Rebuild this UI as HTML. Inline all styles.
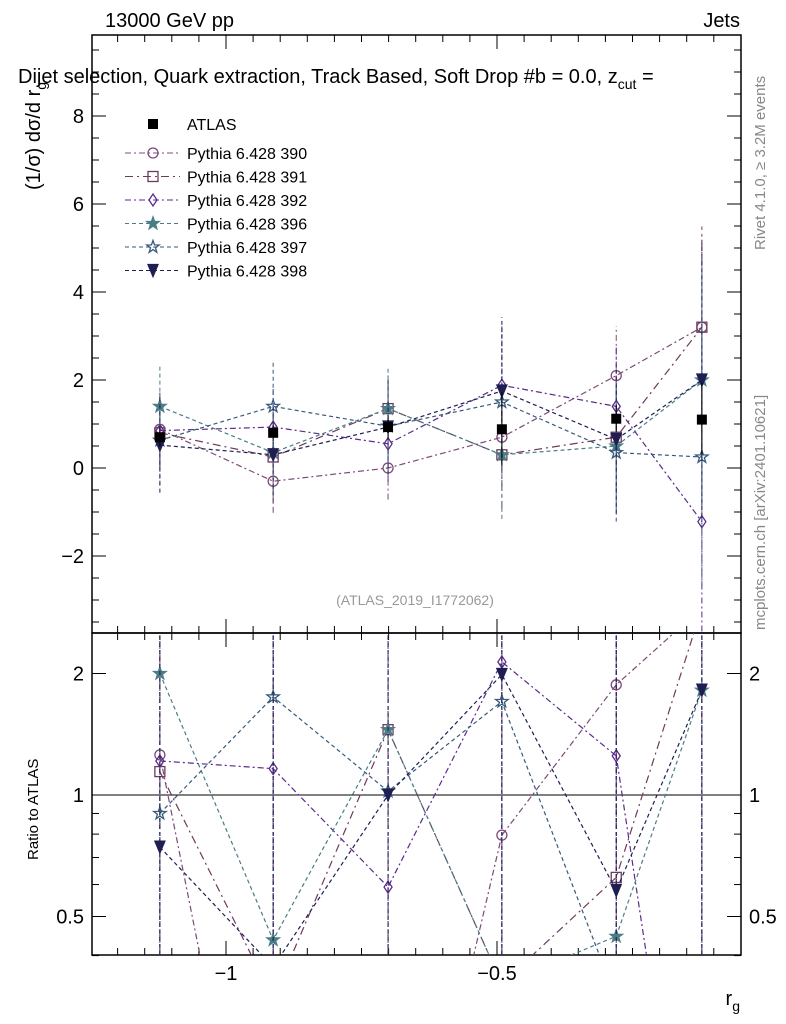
<!DOCTYPE html>
<html><head><meta charset="utf-8"><style>
html,body{margin:0;padding:0;background:#fff;width:786px;height:1024px;overflow:hidden}
svg{font-family:"Liberation Sans",sans-serif;display:block}
</style></head><body>
<svg id="c" width="786" height="1024" viewBox="0 0 786 1024" xmlns="http://www.w3.org/2000/svg">
<text x="105" y="27" font-size="20">13000 GeV pp</text>
<text x="740" y="27" font-size="20" text-anchor="end">Jets</text>
<text x="18" y="83" font-size="20">Dijet selection, Quark extraction, Track Based, Soft Drop #b = 0.0, z<tspan font-size="14" dy="6">cut</tspan><tspan dy="-6"> =</tspan></text>
<text transform="translate(765,250) rotate(-90)" font-size="15" fill="#888">Rivet 4.1.0, ≥ 3.2M events</text>
<text transform="translate(765,630) rotate(-90)" font-size="15" fill="#888">mcplots.cern.ch [arXiv:2401.10621]</text>
<text transform="translate(40,190) rotate(-90)" font-size="20">(1/σ) dσ/d r<tspan font-size="14" dy="6">g</tspan></text>
<text transform="translate(38,860) rotate(-90)" font-size="15">Ratio to ATLAS</text>
<text x="740" y="1005" font-size="20" text-anchor="end">r<tspan font-size="14" dy="6">g</tspan></text>
<text x="415" y="605" font-size="14" fill="#999" text-anchor="middle">(ATLAS_2019_I1772062)</text>
<g id="g"></g>
</svg>
<script>
const xs=[-1.122,-0.913,-0.701,-0.491,-0.28,-0.122];
const atlas=[0.7,0.8,0.93,0.88,1.12,1.1];
const atlasErr=[0.7,0.6,0.9,2.8,1.0,2.8];
const names=["Pythia 6.428 390","Pythia 6.428 391","Pythia 6.428 392","Pythia 6.428 396","Pythia 6.428 397","Pythia 6.428 398"];
const s390=[0.88,-0.3,0,0.7,2.1,3.2];
const s391=[0.8,0.25,1.35,0.3,0.7,3.2];
const s392=[0.85,0.93,0.55,1.88,1.4,-1.22];
const s396=[1.4,0.35,1.35,0.3,0.5,2.0];
const s397=[0.63,1.4,0.95,1.5,0.35,0.25];
const s398=[0.52,0.3,0.93,1.75,0.65,2.0];
const errs=[0.9,0.9,0.9,1.4,1.4,2.6];
const series=[s390,s391,s392,s396,s397,s398];
const colors=["#7d4a78","#6e3a5c","#5b2a8c","#4a7d85","#355a7a","#1e1e52"];
const dashes=["6,3,2,3","8,4,2,4","6,3,2,3","4,3","4,3","4,3"];
const markers=["circle","square","diamond","star","ostar","tri"];
const NS="http://www.w3.org/2000/svg",G=document.getElementById('g');
const X0=92,X1=741,T=35,M=633,B=955;
const fx=v=>226+(v+1)*542;
const fy=v=>468-v*44;
const fr=v=>795-Math.log2(v)*121.5;
function el(t,a,p){const e=document.createElementNS(NS,t);for(const k in a)e.setAttribute(k,a[k]);(p||G).appendChild(e);return e;}
let f1=el('rect',{x:X0,y:T,width:X1-X0,height:M-T,fill:'none',stroke:'#000','stroke-width':1.5});

let f2=el('rect',{x:X0,y:M,width:X1-X0,height:B-M,fill:'none',stroke:'#000','stroke-width':1.5});

const defs=el('defs',{});
const c1=el('clipPath',{id:'cm'},defs);el('rect',{x:X0,y:T,width:X1-X0,height:M-T},c1);
const c2=el('clipPath',{id:'cr'},defs);el('rect',{x:X0,y:M,width:X1-X0,height:B-M},c2);
for(let v=-3.5;v<=9.5;v+=0.5){const y=fy(v);if(y<T||y>M)continue;const L=(v%2===0)?14:7;
el('line',{x1:X0,x2:X0+L,y1:y,y2:y,stroke:'#000'});el('line',{x1:X1,x2:X1-L,y1:y,y2:y,stroke:'#000'});
if(v%2===0){const t=el('text',{x:X0-8,y:y+7,'font-size':20,'text-anchor':'end'});t.textContent=(v<0?'−'+(-v):v);
}}
for(let v=-1.25;v<=-0.05;v+=0.05){const x=fx(v);if(x<X0||x>X1)continue;const maj=Math.abs(v*2-Math.round(v*2))<1e-6;const L=maj?14:7;
for(const [a,b] of [[T,1],[M,-1],[M,1],[B,-1]])el('line',{x1:x,x2:x,y1:a,y2:a+b*L,stroke:'#000'});
if(maj){const t=el('text',{x:x,y:B+25,'font-size':20,'text-anchor':'middle'});t.textContent=(Math.abs(v+1)<1e-6?'−1':'−0.5');
}}
const rt=[0.4,0.5,0.6,0.7,0.8,0.9,1,2];
rt.forEach(v=>{const y=fr(v);const maj=(v===0.5||v===1||v===2);const L=maj?14:7;
el('line',{x1:X0,x2:X0+L,y1:y,y2:y,stroke:'#000'});el('line',{x1:X1,x2:X1-L,y1:y,y2:y,stroke:'#000'});
if(maj){for(const [xx,an] of [[X0-8,'end'],[X1+8,'start']]){const t=el('text',{x:xx,y:y+7,'font-size':20,'text-anchor':an});t.textContent=v;
}}});
el('line',{x1:X0,x2:X1,y1:fr(1),y2:fr(1),stroke:'#000'});
function marker(type,x,y,c,parent){const a={stroke:c,fill:'none','stroke-width':1.3};
let m;
if(type==='circle')m=el('circle',Object.assign(a,{cx:x,cy:y,r:5}),parent);
else if(type==='square')m=el('rect',Object.assign(a,{x:x-5,y:y-5,width:10,height:10}),parent);
else if(type==='diamond')m=el('path',Object.assign(a,{d:`M${x},${y-6}L${x+4},${y}L${x},${y+6}L${x-4},${y}Z`}),parent);
else if(type==='tri')m=el('path',Object.assign(a,{fill:c,d:`M${x-5},${y-6}L${x+5},${y-6}L${x},${y+6}Z`}),parent);
else if(type==='fsq')m=el('rect',{x:x-5,y:y-5,width:10,height:10,fill:c},parent);
else{let p='';for(let i=0;i<10;i++){const r=i%2?2.6:6.5,an=-Math.PI/2+i*Math.PI/5;p+=(i?'L':'M')+(x+r*Math.cos(an))+','+(y+r*Math.sin(an));}
m=el('path',Object.assign(a,{d:p+'Z',fill:type==='star'?c:'none'}),parent);}
return m;}
const gm=el('g',{'clip-path':'url(#cm)'}),gr=el('g',{'clip-path':'url(#cr)'});
series.forEach((s,i)=>{const c=colors[i];
const g1=el('g',{},gm);
const g2=el('g',{},gr);
el('polyline',{points:s.map((v,j)=>fx(xs[j])+','+fy(v)).join(' '),fill:'none',stroke:c,'stroke-dasharray':dashes[i],'stroke-width':1.2},g1);
el('polyline',{points:s.map((v,j)=>fx(xs[j])+','+fr(Math.max(v/atlas[j],0.05))).join(' '),fill:'none',stroke:c,'stroke-dasharray':dashes[i],'stroke-width':1.2},g2);
s.forEach((v,j)=>{const x=fx(xs[j]);const e=errs[j]*(0.8+0.08*i);
el('line',{x1:x,x2:x,y1:fy(v-e),y2:fy(v+e),stroke:c,'stroke-dasharray':dashes[i]},g1);
el('line',{x1:x,x2:x,y1:B,y2:M,stroke:c,'stroke-dasharray':dashes[i]},g2);
marker(markers[i],x,fy(v),c,g1);
const r=v/atlas[j];if(r>0)marker(markers[i],x,fr(r),c,g2);});});
const ga=el('g',{},gm);
atlas.forEach((v,j)=>{const x=fx(xs[j]);el('line',{x1:x,x2:x,y1:fy(v-atlasErr[j]*0.3),y2:fy(v+atlasErr[j]*0.3),stroke:'#000'},ga);marker('fsq',x,fy(v),'#000',ga);});
const lg=el('g',{});
marker('fsq',153,124,'#000',lg);let t=el('text',{x:187,y:130,'font-size':16},lg);t.textContent='ATLAS';
names.forEach((n,i)=>{const y=153+i*23.5;
const en=el('g',{},lg);
el('line',{x1:125,x2:180,y1:y,y2:y,stroke:colors[i],'stroke-dasharray':dashes[i]},en);marker(markers[i],153,y,colors[i],en);
const tt=el('text',{x:187,y:y+6,'font-size':16},en);tt.textContent=n;});
</script>
</body></html>
